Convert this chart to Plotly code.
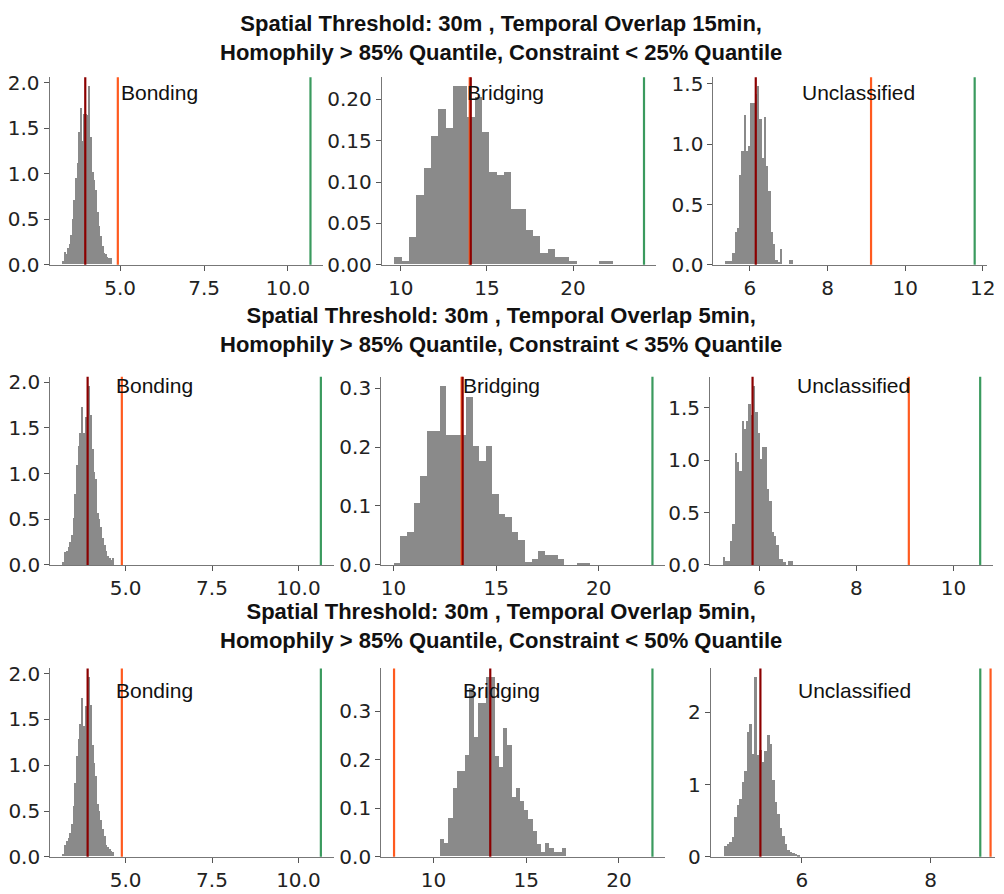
import plotly.graph_objects as go

# ------------------------------------------------------------------ data
row_titles = [
    "Spatial Threshold: 30m , Temporal Overlap 15min,<br>Homophily > 85% Quantile, Constraint < 25% Quantile",
    "Spatial Threshold: 30m , Temporal Overlap 5min,<br>Homophily > 85% Quantile, Constraint < 35% Quantile",
    "Spatial Threshold: 30m , Temporal Overlap 5min,<br>Homophily > 85% Quantile, Constraint < 50% Quantile",
]
categories = ["Bonding", "Bridging", "Unclassified"]

# histogram bin span (first edge, last edge) and densities (30 bins each)
r1_bonding_span = [3.265, 4.735]
r1_bonding_density = [0.036, 0.14, 0.11, 0.18, 0.23, 0.32, 0.5, 0.71, 0.95, 1.11,
                      1.45, 1.72, 1.36, 1.65, 1.65, 1.64, 1.96, 1.4, 1.02, 0.93,
                      0.82, 0.58, 0.42, 0.31, 0.2, 0.125, 0.11, 0.08, 0.07, 0.07]
r1_bridging_span = [9.62, 22.32]
r1_bridging_density = [0.0087, 0.004, 0.033, 0.084, 0.117, 0.155, 0.188, 0.165, 0.216, 0.216,
                       0.179, 0.203, 0.16, 0.112, 0.108, 0.112, 0.067, 0.067, 0.042, 0.034,
                       0.014, 0.019, 0.009, 0.009, 0.004, 0.0, 0.0, 0.0, 0.004, 0.004]
r1_unclass_span = [5.38, 7.13]
r1_unclass_density = [0.027, 0.027, 0.027, 0.095, 0.27, 0.305, 0.74, 0.94, 1.24, 0.94,
                      0.98, 1.34, 1.34, 1.41, 1.48, 1.21, 0.88, 1.22, 0.82, 0.61,
                      0.27, 0.17, 0.035, 0.02, 0.127, 0.0, 0.0, 0.0, 0.035, 0.035]

r2_bonding_span = [3.19, 4.67]
r2_bonding_density = [0.03, 0.14, 0.16, 0.2, 0.25, 0.33, 0.52, 0.78, 1.1, 1.3,
                      1.45, 1.73, 1.45, 1.62, 1.6, 1.96, 1.64, 1.27, 1.02, 0.94,
                      0.57, 0.5, 0.42, 0.3, 0.22, 0.15, 0.1, 0.08, 0.06, 0.08]
r2_bridging_span = [10.03, 19.6]
r2_bridging_density = [0.004, 0.05, 0.056, 0.106, 0.151, 0.227, 0.227, 0.304, 0.221, 0.221,
                       0.221, 0.286, 0.202, 0.177, 0.202, 0.12, 0.087, 0.081, 0.056, 0.043,
                       0.0055, 0.011, 0.024, 0.018, 0.018, 0.011, 0.0, 0.0, 0.0044, 0.0044]
r2_unclass_span = [5.25, 6.69]
r2_unclass_density = [0.078, 0.037, 0.037, 0.23, 0.39, 1.07, 0.98, 0.9, 1.38, 1.3,
                      1.38, 1.54, 1.43, 1.71, 1.46, 1.26, 1.01, 1.13, 1.13, 0.73,
                      0.61, 0.32, 0.28, 0.19, 0.06, 0.056, 0.03, 0.0, 0.037, 0.037]

r3_bonding_span = [3.19, 4.67]
r3_bonding_density = [0.03, 0.13, 0.17, 0.2, 0.26, 0.35, 0.55, 0.8, 1.1, 1.28,
                      1.45, 1.73, 1.42, 1.64, 1.6, 1.96, 1.65, 1.22, 1.02, 0.88,
                      0.57, 0.5, 0.4, 0.3, 0.22, 0.13, 0.1, 0.08, 0.06, 0.05]
r3_bridging_span = [10.36, 17.16]
r3_bridging_density = [0.035, 0.027, 0.079, 0.141, 0.177, 0.177, 0.21, 0.348, 0.247, 0.317,
                       0.317, 0.37, 0.37, 0.207, 0.185, 0.265, 0.23, 0.123, 0.141, 0.114,
                       0.096, 0.077, 0.052, 0.025, 0.009, 0.027, 0.018, 0.009, 0.009, 0.018]
r3_unclass_span = [4.79, 5.96]
r3_unclass_density = [0.148, 0.17, 0.2, 0.27, 0.55, 0.71, 0.8, 1.03, 1.18, 1.72,
                      1.83, 1.42, 2.485, 1.4, 1.47, 1.31, 1.46, 1.68, 1.56, 1.06,
                      0.76, 0.59, 0.4, 0.29, 0.17, 0.09, 0.06, 0.045, 0.03, 0.02]

# reference lines per panel (row-major): null mean (dark red), orange, green
null_mean = [3.96, 14.06, 6.15, 3.90, 13.37, 5.86, 3.90, 13.06, 5.354]
orange_value = [4.93, 14.0, 9.12, 4.89, 13.32, 9.08, 4.89, 7.87, 8.93]
green_value = [10.67, 24.12, 11.79, 10.65, 22.61, 10.55, 10.65, 21.81, 8.77]

# tick settings per panel
x_dtick = [2.5, 5, 2, 2.5, 5, 2, 2.5, 5, 2]
x_fmt = [".1f", "d", "d", ".1f", "d", "d", ".1f", "d", "d"]
y_dtick = [0.5, 0.05, 0.5, 0.5, 0.1, 0.5, 0.5, 0.1, 1]
y_fmt = [".1f", ".2f", ".1f", ".1f", ".1f", ".1f", ".1f", ".1f", "d"]

spans = [r1_bonding_span, r1_bridging_span, r1_unclass_span,
         r2_bonding_span, r2_bridging_span, r2_unclass_span,
         r3_bonding_span, r3_bridging_span, r3_unclass_span]
densities = [r1_bonding_density, r1_bridging_density, r1_unclass_density,
             r2_bonding_density, r2_bridging_density, r2_unclass_density,
             r3_bonding_density, r3_bridging_density, r3_unclass_density]

# ------------------------------------------------------------------ layout (page pixels)
PAGE_W, PAGE_H = 1004, 894
OFF = 8                      # default page margin around the plot div
W, H = PAGE_W - OFF, PAGE_H - OFF
row_y = [(71.7, 263.3), (377.7, 570.0), (675.7, 868.3)]
panel_x = [(45, 322), (381.7, 660), (717.7, 995),
           (45.7, 333), (381, 669), (714.3, 1001),
           (45.7, 333), (381, 669), (715, 1003)]
title_y = [31, 330, 632]
label_pos = [(156, 86.7), (507.5, 86.7), (865, 86.7),
             (151, 386.7), (502.5, 386.7), (860, 386.7),
             (151, 698.3), (502.5, 698.3), (860.5, 698.3)]


def px(x):
    return (x - OFF) / W


def py(y):
    return 1 - (y - OFF) / H


HIST_COLOR = "#8a8a8a"
RED = "#8b0000"
ORANGE = "#ff5a1f"
GREEN = "#3a9a5e"
TICK_FONT = dict(family="DejaVu Sans", size=20, color="#222222")

fig = go.Figure()
layout = dict(
    width=W, height=H, margin=dict(l=0, r=0, t=0, b=0),
    plot_bgcolor="white", paper_bgcolor="white",
    showlegend=False, bargap=0,
)
shapes = []
annotations = []

for k in range(9):
    r = k // 3
    sfx = "" if k == 0 else str(k + 1)
    lo, hi = spans[k]
    dens = densities[k]
    n = len(dens)
    w = (hi - lo) / n
    centers = [lo + (i + 0.5) * w for i in range(n)]
    fig.add_trace(go.Bar(
        x=centers, y=dens, width=[w] * n,
        marker=dict(color=HIST_COLOR, line=dict(width=0)),
        xaxis="x" + sfx, yaxis="y" + sfx, hoverinfo="skip",
    ))

    # matplotlib-like autoscale: 5% margins on x, top 5% on y
    dmin = min(lo, null_mean[k], orange_value[k], green_value[k])
    dmax = max(hi, null_mean[k], orange_value[k], green_value[k])
    m = 0.05 * (dmax - dmin)
    xr = [dmin - m, dmax + m]
    x0px, x1px = panel_x[k]
    if k == 8:
        # last panel is cut by the right edge of the picture (full axis would end near 1012px)
        scale = (1012 - x0px) / (xr[1] - xr[0])
        xr[1] = xr[0] + (x1px - x0px) / scale
    yr = [0, max(dens) * 1.05]

    ytop, ybot = row_y[r]
    layout["xaxis" + sfx] = dict(
        domain=[px(x0px), min(1, px(x1px))], anchor="y" + sfx, range=xr,
        showgrid=False, zeroline=False, showline=True, linecolor="#777777", linewidth=1,
        ticks="outside", ticklen=5, tickwidth=1, tickcolor="#555555",
        tick0=0, dtick=x_dtick[k], tickformat=x_fmt[k], tickfont=TICK_FONT,
    )
    layout["yaxis" + sfx] = dict(
        domain=[py(ybot), py(ytop)], anchor="x" + sfx, range=yr,
        showgrid=False, zeroline=False, showline=True, linecolor="#777777", linewidth=1,
        ticks="outside", ticklen=5, tickwidth=1, tickcolor="#555555",
        tick0=0, dtick=y_dtick[k], tickformat=y_fmt[k], tickfont=TICK_FONT,
    )
    xref = "x" + sfx
    yref = ("y" + sfx) + " domain"
    for val, col in [(orange_value[k], ORANGE), (green_value[k], GREEN), (null_mean[k], RED)]:
        shapes.append(dict(type="line", xref=xref, yref=yref, x0=val, x1=val, y0=0, y1=1,
                           line=dict(color=col, width=2.2), layer="above"))
    lx, ly = label_pos[k]
    annotations.append(dict(
        text=categories[k % 3], xref="paper", yref="paper",
        x=px(lx), y=py(ly), xanchor="center", yanchor="middle", showarrow=False,
        font=dict(family="Liberation Sans", size=21, color="#111111"),
    ))

for r in range(3):
    annotations.append(dict(
        text="<b>" + row_titles[r] + "</b>", xref="paper", yref="paper",
        x=px(502), y=py(title_y[r]), xanchor="center", yanchor="middle", showarrow=False,
        font=dict(family="Liberation Sans", size=22, color="#111111"), align="center",
    ))

layout["shapes"] = shapes
layout["annotations"] = annotations
fig.update_layout(**layout)
fig.write_html("out.html")
